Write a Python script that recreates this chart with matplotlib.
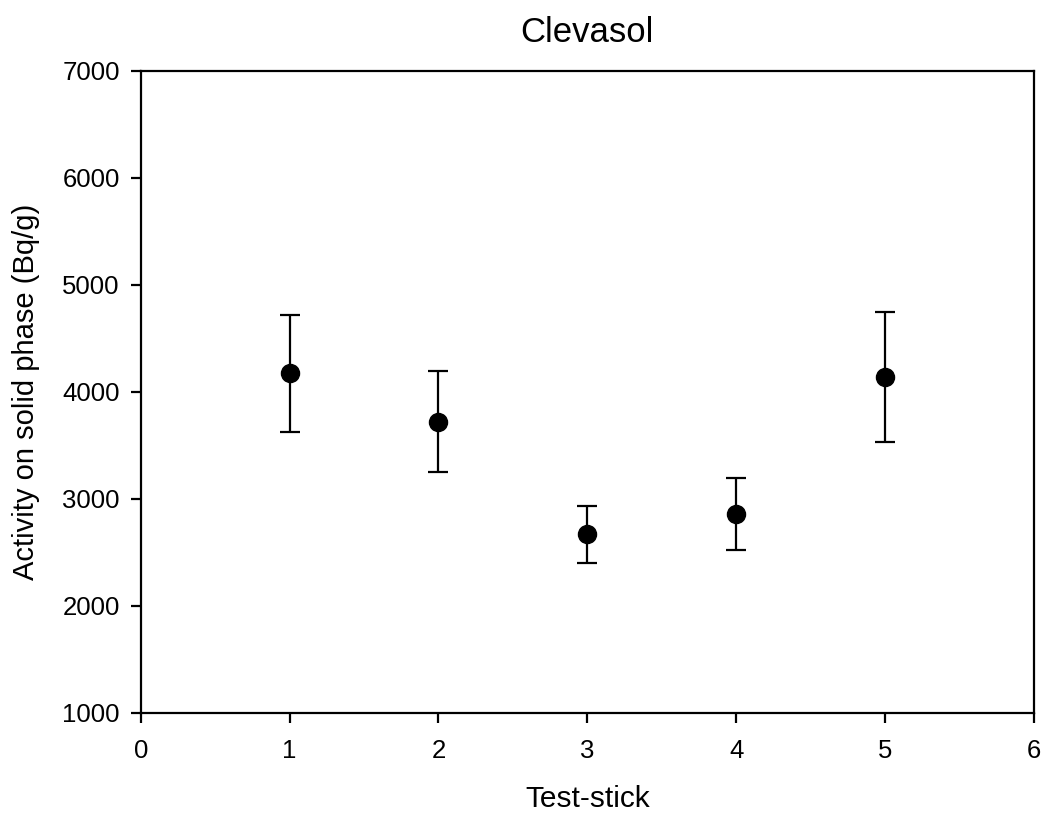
import numpy as np
import matplotlib.pyplot as plt

plt.rcParams["font.family"] = ["Liberation Sans", "DejaVu Sans"]

# data
test_stick = [1, 2, 3, 4, 5]
activity = [4172, 3720, 2667, 2857, 4135]
err_upper = [4717, 4193, 2929, 3190, 4748]
err_lower = [3620, 3247, 2399, 2518, 3527]

y = np.array(activity, dtype=float)
yerr = np.vstack([y - np.array(err_lower), np.array(err_upper) - y])

fig = plt.figure(figsize=(10.43, 8.14), dpi=100)
ax = fig.add_axes([0.1349, 0.1245, 0.8565, 0.7886])

ax.errorbar(test_stick, y, yerr=yerr, fmt="o", color="black", markersize=13,
            elinewidth=1.6, capsize=7.5, capthick=1.6)

ax.set_xlim(0, 6)
ax.set_ylim(1000, 7000)
ax.set_xticks(range(0, 7))
ax.set_yticks(range(1000, 8000, 1000))

for s in ax.spines.values():
    s.set_linewidth(1.6)
ax.tick_params(direction="out", length=7, width=1.6, labelsize=18.5)
ax.tick_params(axis="y", pad=8)
ax.tick_params(axis="x", pad=12)

ax.set_title("Clevasol", fontsize=25, pad=21)
ax.set_xlabel("Test-stick", fontsize=21.5, labelpad=16)
ax.set_ylabel("Activity on solid phase (Bq/g)", fontsize=21, labelpad=16)

fig.savefig("out.png", dpi=100)
